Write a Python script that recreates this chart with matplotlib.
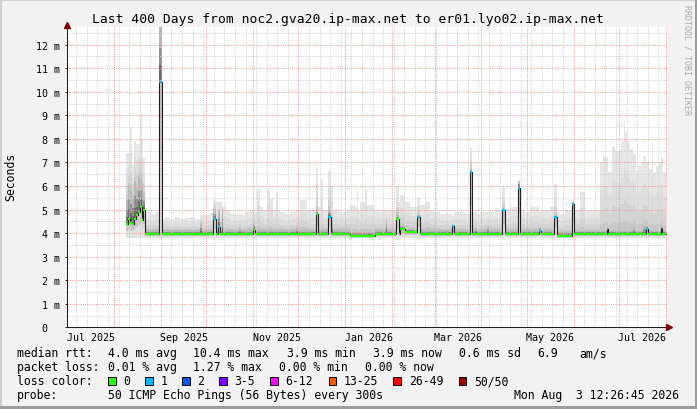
import datetime as dt
import numpy as np
import matplotlib
matplotlib.use("Agg")
import matplotlib.pyplot as plt
import matplotlib.dates as mdates
from matplotlib.patches import Rectangle
from matplotlib.lines import Line2D

W, H = 697, 410
MONO = "DejaVu Sans Mono"
START = dt.datetime(2025, 8, 1)
PX_PER_DAY = 1.512

title = "Last 400 Days from noc2.gva20.ip-max.net to er01.lyo02.ip-max.net"

# step data: days since 2025-08-01, values in ms
day = [7.9, 9.3, 10.6, 11.9, 13.2, 14.6, 15.9, 17.2, 18.5, 19.5,
       20.8, 23.8, 27.1, 30.0, 31.5, 33.7, 37.0, 40.3, 43.7, 47.0,
       50.3, 53.6, 56.9, 57.9, 60.2, 63.5, 65.5, 67.5, 68.8, 70.1,
       71.1, 72.1, 74.1, 76.7, 80.0, 82.7, 83.7, 86.6, 89.9, 91.9,
       93.3, 94.6, 96.6, 98.5, 101.2, 103.2, 105.2, 107.1, 108.5, 109.8,
       113.1, 116.4, 120.4, 121.4, 123.0, 127.6, 133.6, 134.9, 136.9, 138.2,
       141.5, 143.2, 144.8, 149.5, 152.8, 156.1, 159.4, 160.4, 161.4, 162.7,
       166.0, 167.3, 172.6, 179.6, 180.5, 186.5, 188.2, 189.2, 192.5, 195.8,
       200.4, 202.4, 205.7, 209.0, 212.3, 215.6, 220.2, 221.2, 223.5, 224.9,
       232.1, 235.5, 236.8, 238.8, 239.8, 242.1, 246.7, 247.7, 252.0, 256.6,
       258.3, 259.3, 261.9, 267.2, 268.5, 271.8, 275.1, 281.1, 282.1, 285.1,
       288.4, 291.0, 293.0, 295.0, 298.3, 302.9, 304.2, 308.2, 311.5, 314.8,
       319.4, 320.4, 321.4, 323.4, 325.4, 326.1, 327.0, 329.4, 331.3, 333.3,
       335.3, 337.0, 338.0, 339.3, 341.3, 343.3, 344.3, 345.0, 346.6, 348.6,
       349.9, 351.9, 353.2, 353.9, 355.5, 356.5, 358.5, 360.5, 361.5, 362.5,
       363.1, 365.1]

median = [4.39, 4.60, 4.43, 4.39, 4.60, 4.75, 4.90, 5.10, 4.54, 4.97,
          3.96, 3.96, 3.96, 10.4, 3.96, 3.96, 3.96, 3.96, 3.96, 3.96,
          3.96, 3.96, 3.96, 3.96, 3.96, 3.96, 4.60, 3.96, 4.26, 3.96,
          3.96, 3.96, 3.96, 3.96, 3.96, 3.96, 3.96, 3.96, 3.96, 4.15,
          3.96, 3.96, 3.96, 3.96, 3.96, 3.96, 3.96, 3.96, 3.96, 3.96,
          3.96, 3.96, 3.96, 3.96, 3.96, 3.96, 4.80, 3.96, 3.96, 3.96,
          4.70, 3.96, 3.96, 3.96, 3.96, 3.89, 3.89, 3.89, 3.89, 3.89,
          3.89, 3.89, 3.97, 3.97, 3.97, 4.60, 3.97, 4.17, 4.03, 4.03,
          4.70, 3.96, 3.96, 3.96, 3.96, 3.96, 3.96, 3.96, 4.30, 3.96,
          3.96, 6.58, 3.96, 3.96, 3.96, 3.96, 3.96, 3.96, 3.96, 5.00,
          3.96, 3.96, 3.96, 5.90, 3.96, 3.96, 3.96, 4.10, 3.96, 3.96,
          3.96, 4.70, 3.89, 3.89, 3.89, 5.24, 3.94, 3.94, 3.94, 3.94,
          3.94, 3.94, 3.94, 3.94, 3.94, 4.17, 3.94, 3.94, 3.94, 3.94,
          3.94, 3.94, 3.94, 3.94, 3.94, 3.94, 3.94, 3.94, 3.94, 3.94,
          3.94, 4.17, 3.94, 3.94, 3.94, 3.94, 3.94, 3.94, 4.20, 3.94,
          3.94, 3.94]

dark_top = [5.4, 6.0, 5.8, 5.5, 6.2, 5.9, 6.4, 6.3, 6.0, 5.6,
            4.12, 4.12, 4.12, 12.8, 4.12, 4.12, 4.12, 4.12, 4.12, 4.12,
            4.12, 4.12, 4.40, 4.12, 4.12, 4.12, 4.97, 4.20, 4.90, 4.12,
            5.00, 4.10, 4.12, 4.12, 4.12, 4.20, 4.12, 4.12, 4.12, 4.40,
            4.12, 4.12, 4.12, 4.12, 4.12, 4.12, 4.12, 4.12, 4.12, 4.12,
            4.12, 4.12, 4.20, 4.12, 4.12, 4.12, 4.97, 4.12, 4.12, 4.12,
            4.97, 4.39, 4.12, 4.12, 4.12, 4.05, 4.05, 4.05, 4.05, 4.05,
            4.05, 4.05, 4.12, 4.50, 4.12, 4.75, 4.12, 4.30, 4.18, 4.18,
            4.75, 4.12, 4.12, 4.12, 4.12, 4.12, 4.15, 4.12, 4.32, 4.12,
            4.12, 6.70, 4.12, 4.20, 4.12, 4.12, 4.25, 4.12, 4.12, 5.00,
            4.12, 4.12, 4.12, 6.20, 4.12, 4.12, 4.12, 4.20, 4.12, 4.12,
            4.12, 4.70, 4.05, 4.05, 4.05, 5.30, 4.10, 4.10, 4.10, 4.10,
            4.15, 4.10, 4.10, 4.10, 4.10, 4.20, 4.10, 4.12, 4.10, 4.10,
            4.10, 4.10, 4.10, 4.10, 4.10, 4.25, 4.10, 4.10, 4.10, 4.10,
            4.30, 4.30, 4.10, 4.10, 4.10, 4.10, 4.10, 4.10, 4.30, 4.10,
            4.10, 4.10]

light_top = [7.4, 7.4, 8.5, 6.9, 7.9, 7.8, 7.8, 9.0, 8.0, 7.2,
             4.9, 4.8, 4.9, 12.8, 4.6, 4.7, 4.6, 4.7, 4.6, 4.65,
             4.7, 4.6, 4.75, 4.8, 4.75, 4.85, 5.4, 5.3, 5.3, 5.3,
             5.2, 5.1, 5.0, 4.8, 4.75, 4.8, 4.75, 4.9, 5.0, 5.1,
             4.9, 5.87, 5.1, 5.0, 5.87, 5.45, 5.0, 5.7, 5.0, 4.9,
             4.8, 4.9, 5.0, 5.0, 5.4, 5.0, 6.8, 5.1, 6.3, 5.0,
             6.65, 6.0, 5.0, 4.9, 5.0, 5.2, 5.1, 5.87, 5.0, 5.3,
             5.87, 5.2, 5.0, 4.9, 5.0, 6.0, 5.3, 5.6, 5.3, 5.1,
             5.5, 5.2, 5.3, 5.0, 4.9, 4.8, 4.9, 4.8, 4.74, 4.9,
             4.8, 7.6, 4.9, 4.9, 4.8, 4.9, 4.9, 4.9, 5.0, 5.94,
             4.9, 5.0, 5.1, 6.23, 5.0, 4.9, 5.1, 4.9, 5.0, 5.0,
             5.1, 6.08, 4.9, 4.8, 5.0, 5.3, 5.0, 5.73, 5.0, 5.0,
             5.0, 5.0, 7.0, 7.29, 7.22, 7.22, 6.6, 7.71, 7.5, 7.5,
             7.85, 8.77, 8.28, 7.9, 7.57, 7.36, 7.36, 6.65, 6.86, 7.0,
             7.29, 7.0, 7.0, 6.7, 7.85, 6.58, 6.86, 7.0, 7.2, 7.2,
             6.58, 6.58]

loss = [0, 0, 0, 0, 0, 0, 0, 0, 0, 0,
        0, 0, 0, 1, 0, 0, 0, 0, 0, 0,
        0, 0, 0, 0, 0, 0, 1, 0, 1, 0,
        0, 0, 0, 0, 0, 0, 0, 0, 0, 0,
        0, 0, 0, 0, 0, 0, 0, 0, 0, 0,
        0, 0, 0, 0, 0, 0, 0, 0, 0, 0,
        1, 0, 0, 0, 0, 0, 0, 0, 0, 0,
        0, 0, 0, 0, 0, 0, 0, 0, 0, 0,
        1, 0, 0, 0, 0, 0, 0, 0, 1, 0,
        0, 1, 0, 0, 0, 0, 0, 0, 0, 1,
        1, 0, 0, 1, 0, 0, 0, 1, 0, 0,
        0, 1, 0, 0, 0, 1, 0, 0, 0, 0,
        0, 0, 0, 0, 0, 1, 0, 0, 0, 0,
        0, 0, 0, 0, 0, 0, 0, 0, 0, 0,
        0, 1, 0, 0, 0, 0, 0, 0, 1, 0,
        0, 0]

smoke_floor = 3.78

loss_labels = ["0", "1", "2", "3-5", "6-12", "13-25", "26-49", "50/50"]
loss_colors = ["#26ff00", "#00b8ff", "#0059ff", "#7e00ff",
               "#ff00ff", "#ff5500", "#ff0000", "#a10000"]

xtick_labels = ["Jul 2025", "Sep 2025", "Nov 2025", "Jan 2026",
                "Mar 2026", "May 2026", "Jul 2026"]

rtt_stats = ["4.0 ms avg", "10.4 ms max", "3.9 ms min", "3.9 ms now",
             "0.6 ms sd", "6.9", "am/s"]
loss_stats = ["0.01 % avg", "1.27 % max", "0.00 % min", "0.00 % now"]
probe_text = "50 ICMP Echo Pings (56 Bytes) every 300s"
stamp = "Mon Aug  3 12:26:45 2026"


def fx(px):
    return px / W


def fy(py):
    return 1 - py / H


fig = plt.figure(figsize=(W / 100, H / 100), dpi=100, facecolor="#f2f2f2")
ax = fig.add_axes([fx(67), fy(328.3), (667 - 67) / W, (328.3 - 27.5) / H])
ax.set_facecolor("white")

t0 = mdates.date2num(START)
x = t0 + np.array(day)
med = np.array(median)
dk = np.array(dark_top)
lt = np.array(light_top)
xmin = t0 + (67 - 114) / PX_PER_DAY
xmax = t0 + (667 - 114) / PX_PER_DAY
ymax = 12.77
ax.set_xlim(xmin, xmax)
ax.set_ylim(0, ymax)

# smoke below the median
ax.fill_between(x, smoke_floor, med, step="post", color="#e2e2e2", lw=0, zorder=1)
ax.fill_between(x, smoke_floor + (med - smoke_floor) * 0.5, med, step="post",
                color="#c8c8c8", lw=0, zorder=1)
# smoke above the median
for f, c in [(1.0, "#e6e6e6"), (0.6, "#dedede"), (0.3, "#d3d3d3"), (0.1, "#c6c6c6")]:
    ax.fill_between(x, med, dk + (lt - dk) * f, step="post", color=c, lw=0, zorder=1)
for f, c in [(1.0, "#b8b8b8"), (0.6, "#909090"), (0.3, "#6a6a6a")]:
    ax.fill_between(x, med, med + (dk - med) * f, step="post", color=c, lw=0, zorder=1)

# grid
months = [dt.datetime(2025 + (7 + i) // 12, (7 + i) % 12 + 1, 1) for i in range(13)]
mondays = []
d = dt.datetime(2025, 7, 7)
while d < dt.datetime(2026, 8, 4):
    if d.day != 1:
        mondays.append(d)
    d += dt.timedelta(days=7)
dot = (0, (1, 1.2))
grid_kw = dict(linestyles=dot, lw=0.72, zorder=3, snap=True)
ax.vlines(mdates.date2num(mondays), 0, ymax, colors="#d2d2d2", **grid_kw)
ax.hlines(np.arange(0.5, 13, 1.0), xmin, xmax, colors="#d2d2d2", **grid_kw)
ax.vlines(mdates.date2num(months), 0, ymax, colors="#f29a9a", **grid_kw)
ax.hlines(np.arange(1, 13), xmin, xmax, colors="#f29a9a", **grid_kw)

# median line
ax.step(x, med, where="post", color="#202020", lw=0.8, zorder=4)
ax.hlines(med[:-1], x[:-1], x[1:], colors=[loss_colors[k] for k in loss[:-1]],
          lw=1.6, zorder=5)

# axes
for s in ["top", "right"]:
    ax.spines[s].set_visible(False)
for s in ["left", "bottom"]:
    ax.spines[s].set_color("#202020")
    ax.spines[s].set_linewidth(0.75)
    ax.spines[s].set_zorder(6)
fig.add_artist(Line2D([fx(669)], [fy(328.3)], marker=">", ms=4.5, color="#7f0000",
                      mec="#7f0000", transform=fig.transFigure))
fig.add_artist(Line2D([fx(67)], [fy(25.5)], marker="^", ms=4.5, color="#7f0000",
                      mec="#7f0000", transform=fig.transFigure))

ax.set_yticks(range(13))
ax.set_yticklabels(["0  "] + [f"{v} m" for v in range(1, 13)],
                   fontfamily=MONO, fontsize=7.2)
ax.tick_params(axis="y", length=1.5, width=0.7, pad=3.6, color="#202020")

label_dates = [dt.datetime.strptime(s, "%b %Y") + dt.timedelta(days=15.5)
               for s in xtick_labels]
ax.set_xticks(mdates.date2num(label_dates))
ax.set_xticklabels(xtick_labels, fontfamily=MONO, fontsize=7.2)
ax.tick_params(axis="x", length=0, pad=3.4)

# texts
fig.text(fx(347.5), fy(19.5), title, fontfamily=MONO, fontsize=9.4,
         ha="center", va="center")
fig.text(fx(11), fy(177), "Seconds", fontfamily=MONO, fontsize=8.3,
         rotation=90, ha="center", va="center")
fig.text(fx(687), fy(60), "RRDTOOL / TOBI OETIKER", fontfamily=MONO, fontsize=6,
         rotation=270, ha="center", va="center", color="#aaaaaa")

fs = 8.3
rtt_x = [107.7, 193.3, 286.7, 372.7, 458.7, 537.7, 579.7]
loss_x = [107.7, 193.3, 279.3, 365.0]
fig.text(fx(16.7), fy(354), "median rtt:", fontfamily=MONO, fontsize=fs, va="center")
for px, s in zip(rtt_x, rtt_stats):
    fig.text(fx(px), fy(354), s, fontfamily=MONO, fontsize=fs, va="center")
fig.text(fx(16.7), fy(368), "packet loss:", fontfamily=MONO, fontsize=fs, va="center")
for px, s in zip(loss_x, loss_stats):
    fig.text(fx(px), fy(368), s, fontfamily=MONO, fontsize=fs, va="center")
fig.text(fx(16.7), fy(382), "loss color:", fontfamily=MONO, fontsize=fs, va="center")
box_x = [108.3, 145.3, 182.0, 219.0, 270.3, 328.7, 393.3, 458.7]
for px, lbl, c in zip(box_x, loss_labels, loss_colors):
    fig.add_artist(Rectangle((fx(px), fy(386)), 7.7 / W, 7.7 / H, transform=fig.transFigure,
                             facecolor=c, edgecolor="black", lw=0.7))
    fig.text(fx(px + 15.4), fy(382), lbl, fontfamily=MONO, fontsize=fs, va="center")
fig.text(fx(16.7), fy(396), "probe:", fontfamily=MONO, fontsize=fs, va="center")
fig.text(fx(107.7), fy(396), probe_text, fontfamily=MONO, fontsize=fs, va="center")
fig.text(fx(513.7), fy(396), stamp, fontfamily=MONO, fontsize=fs, va="center")

# frame
fig.add_artist(Rectangle((0, 1 - 2 / H), 1, 2 / H, transform=fig.transFigure, color="#d0d0d0", lw=0))
fig.add_artist(Rectangle((0, 0), 2 / W, 1, transform=fig.transFigure, color="#d0d0d0", lw=0))
fig.add_artist(Rectangle((0, 0), 1, 3 / H, transform=fig.transFigure, color="#9c9c9c", lw=0))
fig.add_artist(Rectangle((1 - 2 / W, 0), 2 / W, 1, transform=fig.transFigure, color="#9c9c9c", lw=0))

fig.savefig("out.png", dpi=100, facecolor=fig.get_facecolor())
